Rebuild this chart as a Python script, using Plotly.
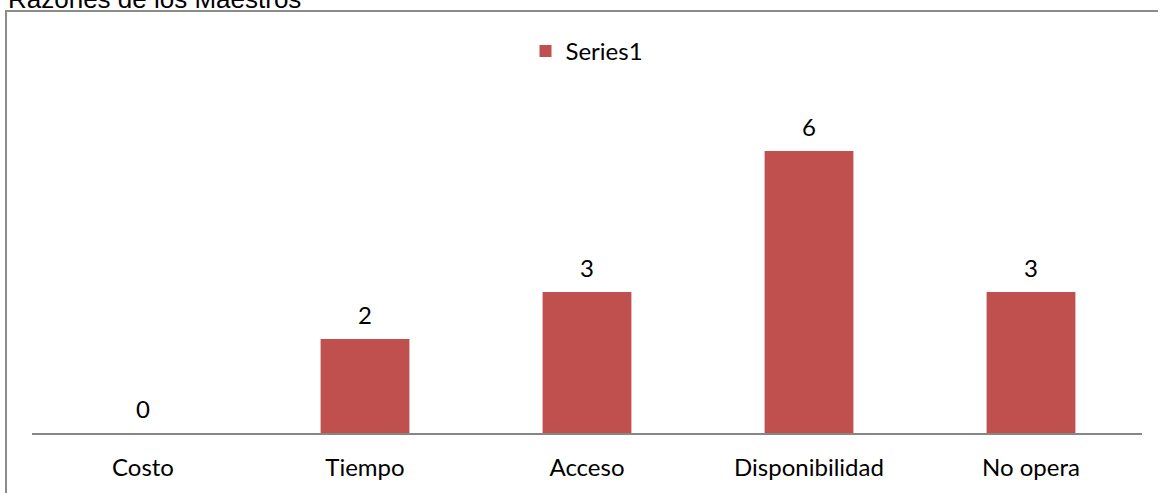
import plotly.graph_objects as go

categories = ["Costo", "Tiempo", "Acceso", "Disponibilidad", "No opera"]
values = [0, 2, 3, 6, 3]
series_name = "Series1"
title_text = "Razones de los Maestros"

W, H = 1158, 493
L, R, T, B = 32, 16, 104, 60
pw, ph = W - L - R, H - T - B

def px_x(p):
    return (p - L) / pw

def px_y(p):
    return (H - B - p) / ph

FONT = "Lato"
FS = 24

fig = go.Figure()
fig.add_trace(go.Bar(
    x=categories, y=values, name=series_name,
    marker=dict(color="#C0504D", line=dict(width=0)),
    width=0.4, showlegend=True,
))

annotations = []
for c, v in zip(categories, values):
    annotations.append(dict(
        x=c, y=v, xref="x", yref="y", text=str(v), showarrow=False,
        yanchor="bottom", yshift=8,
        font=dict(family=FONT, size=FS, color="#000000"),
    ))
annotations.append(dict(
    x=px_x(6), y=px_y(9), xref="paper", yref="paper", text=title_text,
    showarrow=False, xanchor="left", yanchor="bottom", yshift=-7,
    font=dict(family="Liberation Sans", size=26, color="#000000"),
))

fig.update_layout(
    width=W, height=H,
    margin=dict(l=L, r=R, t=T, b=B, autoexpand=False),
    paper_bgcolor="white", plot_bgcolor="white",
    annotations=annotations,
    shapes=[dict(
        type="rect", xref="paper", yref="paper",
        x0=px_x(6), x1=px_x(1170), y0=px_y(510), y1=px_y(11),
        line=dict(color="#8c8c8c", width=2), fillcolor="rgba(0,0,0,0)",
        layer="below",
    )],
    legend=dict(
        orientation="h", x=0.5, xanchor="center", y=px_y(29), yanchor="top",
        font=dict(family=FONT, size=FS, color="#000000"),
        bgcolor="rgba(0,0,0,0)", itemwidth=30,
    ),
    xaxis=dict(
        showline=True, linecolor="#868686", linewidth=2,
        showgrid=False, ticks="", ticklabelstandoff=12,
        tickfont=dict(family=FONT, size=FS, color="#000000"),
        range=[-0.5, 4.5],
    ),
    yaxis=dict(
        visible=False, range=[0, 7], showgrid=False, zeroline=False,
    ),
    font=dict(family=FONT),
)

fig.write_html("out.html", config={"displayModeBar": False})

with open("out.html", "r", encoding="utf-8") as f:
    html = f.read()
html = html.replace("<head>", "<head><style>html,body{margin:0;padding:0;overflow:hidden;}</style>", 1)
with open("out.html", "w", encoding="utf-8") as f:
    f.write(html)
